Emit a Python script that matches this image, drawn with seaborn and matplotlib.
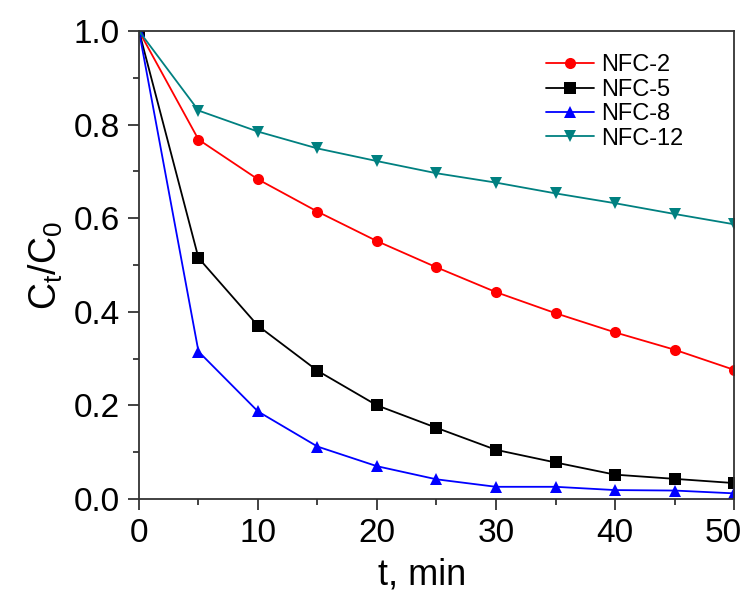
import numpy as np
import pandas as pd
import seaborn as sns
import matplotlib.pyplot as plt
from matplotlib.ticker import MultipleLocator, FuncFormatter

# reaction time, min
t = [0, 5, 10, 15, 20, 25, 30, 35, 40, 45, 50]

# Ct/C0
nfc2 = [1.0, 0.768, 0.683, 0.614, 0.551, 0.495, 0.442, 0.397, 0.356, 0.319, 0.276]
nfc5 = [1.0, 0.515, 0.370, 0.274, 0.200, 0.152, 0.105, 0.078, 0.052, 0.043, 0.034]
nfc8 = [1.0, 0.315, 0.187, 0.112, 0.070, 0.042, 0.026, 0.026, 0.019, 0.018, 0.012]
nfc12 = [1.0, 0.830, 0.785, 0.749, 0.722, 0.696, 0.676, 0.653, 0.632, 0.609, 0.587]

samples = ['NFC-2', 'NFC-5', 'NFC-8', 'NFC-12']
colors = ['#ff0000', '#000000', '#0000ff', '#008080']
markers = ['o', 's', '^', 'v']

df = pd.DataFrame({
    't': t * 4,
    'c': nfc2 + nfc5 + nfc8 + nfc12,
    'sample': [s for s in samples for _ in t],
})

sns.set_style('ticks')
plt.rcParams['font.family'] = ['Liberation Sans', 'DejaVu Sans']
plt.rcParams['mathtext.fontset'] = 'custom'
plt.rcParams['mathtext.rm'] = 'Liberation Sans'
plt.rcParams['text.color'] = 'black'
plt.rcParams['axes.labelcolor'] = 'black'
plt.rcParams['xtick.color'] = '#222222'
plt.rcParams['ytick.color'] = '#222222'
plt.rcParams['xtick.labelcolor'] = 'black'
plt.rcParams['ytick.labelcolor'] = 'black'

fig = plt.figure(figsize=(7.48, 5.97), dpi=100)
ax = fig.add_axes([0.1858, 0.1642, 0.7955, 0.7839])

sns.lineplot(data=df, x='t', y='c', hue='sample', style='sample',
             hue_order=samples, style_order=samples, palette=colors,
             markers=markers, dashes=False, markersize=8, markeredgewidth=0,
             linewidth=1.3, ax=ax)

xmax = t[-1]
ax.set_xlim(0, xmax)
ax.set_ylim(0, 1.0)
ax.xaxis.set_major_locator(MultipleLocator(10))
ax.xaxis.set_minor_locator(MultipleLocator(5))
ax.yaxis.set_major_locator(MultipleLocator(0.2))
ax.yaxis.set_minor_locator(MultipleLocator(0.1))
ax.yaxis.set_major_formatter(plt.FormatStrFormatter('%.1f'))
# the last x label is drawn separately, pulled in a little so it fits
ax.xaxis.set_major_formatter(FuncFormatter(lambda v, p: '' if v >= xmax else '%d' % v))
ax.tick_params(which='major', direction='out', length=8, width=1.2, labelsize=24, pad=6)
ax.tick_params(which='minor', direction='out', length=4, width=1.2)
ax.tick_params(top=False, right=False)
for sp in ax.spines.values():
    sp.set_linewidth(1.3)
    sp.set_color('#333333')

ax.annotate('%d' % xmax, xy=(xmax, 0), xycoords=('data', 'axes fraction'),
            xytext=(-11, -19.4), textcoords='offset pixels',
            ha='center', va='top', fontsize=24, color='black')

ax.set_xlabel('t, min', fontsize=26)
ax.xaxis.set_label_coords(0.476, -0.125)
ax.set_ylabel(r'C$_\mathregular{t}$/C$_\mathregular{0}$', fontsize=27, labelpad=6)

handles, labels = ax.get_legend_handles_labels()
ax.legend(handles, labels, loc='upper right', frameon=False, fontsize=17,
          handlelength=2.0, handletextpad=0.3, labelspacing=0.1,
          bbox_to_anchor=(0.93, 0.97), borderaxespad=0)

fig.savefig('out.png', dpi=100)
